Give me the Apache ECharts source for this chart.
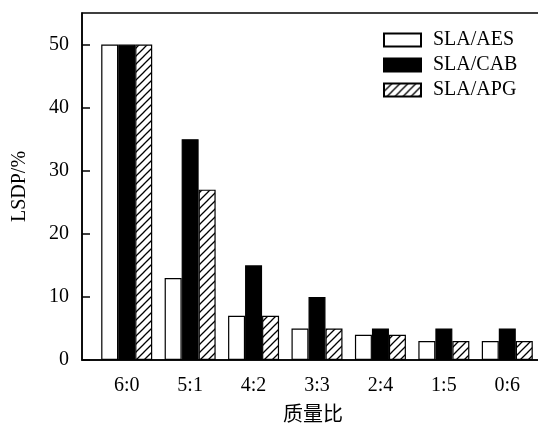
<!DOCTYPE html>
<html>
<head>
<meta charset="utf-8">
<script src="https://cdn.jsdelivr.net/npm/echarts@6/dist/echarts.min.js"></script>
<style>
html,body{margin:0;padding:0;background:#fff;}
#chart{width:538px;height:424px;}
</style>
</head>
<body>
<div id="chart"></div>
<script>
var categories = ['6:0', '5:1', '4:2', '3:3', '2:4', '1:5', '0:6'];
var seriesNames = ['SLA/AES', 'SLA/CAB', 'SLA/APG'];
var aesValues = [50, 13, 7, 5, 4, 3, 3];
var cabValues = [50, 35, 15, 10, 5, 5, 5];
var apgValues = [50, 27, 7, 5, 4, 3, 3];
var yTicks = [0, 10, 20, 30, 40, 50];
var xAxisName = '质量比';
var yAxisName = 'LSDP/%';

var serif = '"Liberation Serif", "DejaVu Serif", serif';

// hatch pattern "/"
var pc = document.createElement('canvas');
pc.width = 8; pc.height = 8;
var ctx = pc.getContext('2d');
ctx.fillStyle = '#fff';
ctx.fillRect(0, 0, 8, 8);
ctx.strokeStyle = '#000';
ctx.lineWidth = 1.3;
ctx.beginPath();
ctx.moveTo(-1, 9); ctx.lineTo(9, -1);
ctx.moveTo(-3, 3); ctx.lineTo(3, -3);
ctx.moveTo(5, 11); ctx.lineTo(11, 5);
ctx.stroke();
var hatch = { image: pc, repeat: 'repeat' };

var chart = echarts.init(document.getElementById('chart'), null, { renderer: 'canvas' });

var barBase = {
  type: 'bar',
  xAxisIndex: 1,
  yAxisIndex: 1,
  barWidth: 17,
  barGap: '0%',
  animation: false
};

chart.setOption({
  backgroundColor: '#fff',
  animation: false,
  legend: {
    data: seriesNames,
    orient: 'vertical',
    left: 383,
    top: 30,
    padding: 0,
    icon: 'rect',
    itemWidth: 37,
    itemHeight: 13,
    itemGap: 5,
    textStyle: { fontFamily: serif, fontSize: 20, color: '#000', padding: [0, 0, 0, 7] }
  },
  grid: [
    { left: 82, right: -6, top: 13, bottom: 64, show: true, borderColor: '#000', borderWidth: 1.5, backgroundColor: 'transparent', outerBoundsMode: 'none', containLabel: false },
    { left: 95, right: -1, top: 13, bottom: 64, outerBoundsMode: 'none', containLabel: false }
  ],
  xAxis: [
    {
      type: 'category', gridIndex: 0, data: categories,
      axisLine: { show: true, onZero: false, lineStyle: { color: '#000', width: 1.5 } },
      axisTick: { show: false }, axisLabel: { show: false }, splitLine: { show: false },
      name: xAxisName, nameLocation: 'middle', nameGap: 43,
      nameTextStyle: { fontFamily: '"Noto Sans CJK SC", sans-serif', fontSize: 20, color: '#000' }
    },
    {
      type: 'category', gridIndex: 1, data: categories,
      axisLine: { show: false }, axisTick: { show: false }, splitLine: { show: false },
      axisLabel: { fontFamily: serif, fontSize: 20, color: '#000', margin: 16 }
    }
  ],
  yAxis: [
    {
      type: 'value', gridIndex: 0, min: 0, max: 55, interval: 10,
      axisLine: { show: true, lineStyle: { color: '#000', width: 1.5 } },
      axisTick: { show: true, inside: true, length: 8, lineStyle: { color: '#000', width: 1.5 } },
      splitLine: { show: false },
      axisLabel: {
        fontFamily: serif, fontSize: 20, color: '#000', margin: 13,
        showMaxLabel: false,
        formatter: function (v) { return yTicks.indexOf(v) >= 0 ? String(v) : ''; }
      },
      name: yAxisName, nameLocation: 'middle', nameGap: 52, nameRotate: 90,
      nameTextStyle: { fontFamily: serif, fontSize: 20, color: '#000' }
    },
    {
      type: 'value', gridIndex: 1, min: 0, max: 55, interval: 10, show: false
    }
  ],
  series: [
    Object.assign({}, barBase, {
      name: seriesNames[0], data: aesValues,
      itemStyle: { color: '#fff', borderColor: '#000', borderWidth: 1.2 }
    }),
    Object.assign({}, barBase, {
      name: seriesNames[1], data: cabValues,
      itemStyle: { color: '#000', borderColor: '#000', borderWidth: 1.2 }
    }),
    Object.assign({}, barBase, {
      name: seriesNames[2], data: apgValues,
      itemStyle: { color: hatch, borderColor: '#000', borderWidth: 1.2 }
    })
  ]
});
</script>
</body>
</html>
